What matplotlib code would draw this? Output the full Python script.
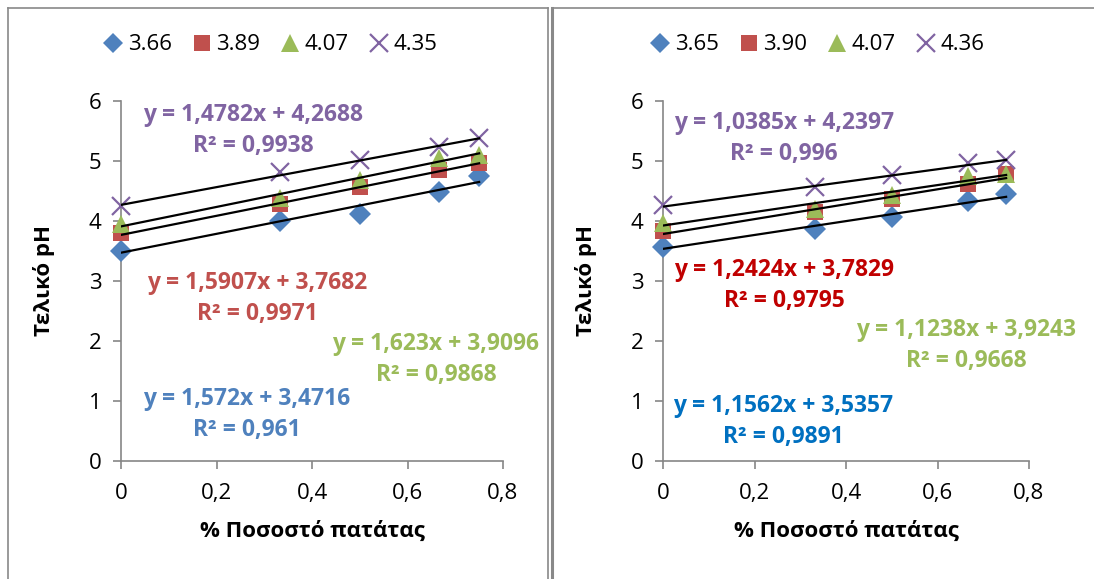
import numpy as np
import matplotlib
matplotlib.use("Agg")
import matplotlib.pyplot as plt
from matplotlib.lines import Line2D

plt.rcParams['font.family'] = ['Open Sans', 'DejaVu Sans']

# potato fraction
x_vals = [0, 0.333, 0.5, 0.667, 0.75]

# left panel
left_names = ['3.66', '3.89', '4.07', '4.35']
left_y = [
    [3.50, 4.00, 4.12, 4.48, 4.75],
    [3.80, 4.28, 4.56, 4.85, 4.96],
    [3.95, 4.38, 4.68, 5.05, 5.10],
    [4.25, 4.82, 5.02, 5.24, 5.38],
]
left_slope = [1.572, 1.5907, 1.623, 1.4782]
left_icept = [3.4716, 3.7682, 3.9096, 4.2688]
left_eq = ['y = 1,572x + 3,4716', 'y = 1,5907x + 3,7682',
           'y = 1,623x + 3,9096', 'y = 1,4782x + 4,2688']
left_r2 = ['R² = 0,961', 'R² = 0,9971', 'R² = 0,9868', 'R² = 0,9938']

# right panel
right_names = ['3.65', '3.90', '4.07', '4.36']
right_y = [
    [3.57, 3.86, 4.06, 4.33, 4.45],
    [3.83, 4.15, 4.36, 4.62, 4.79],
    [3.97, 4.20, 4.43, 4.75, 4.78],
    [4.26, 4.57, 4.76, 4.96, 5.02],
]
right_slope = [1.1562, 1.2424, 1.1238, 1.0385]
right_icept = [3.5357, 3.7829, 3.9243, 4.2397]
right_eq = ['y = 1,1562x + 3,5357', 'y = 1,2424x + 3,7829',
            'y = 1,1238x + 3,9243', 'y = 1,0385x + 4,2397']
right_r2 = ['R² = 0,9891', 'R² = 0,9795', 'R² = 0,9668', 'R² = 0,996']

markers = ['D', 's', '^', 'x']
msizes = [11, 12, 13, 13.5]
mcolors = ['#4F81BD', '#C0504D', '#9BBB59', '#8064A2']
left_lbl_col = ['#4F81BD', '#C0504D', '#9BBB59', '#8064A2']
right_lbl_col = ['#0070C0', '#C00000', '#9BBB59', '#8064A2']

W, H = 1094, 579
fig = plt.figure(figsize=(W / 100, H / 100), dpi=100)


def px(x0, y0, x1, y1):
    # pixel box (top-left origin) -> figure fraction rect
    return [x0 / W, 1 - y1 / H, (x1 - x0) / W, (y1 - y0) / H]


def draw_panel(rect, ys, slopes, icepts, eqs, r2s, lblcols, names, lbl_pos, leg_x):
    ax = fig.add_axes(rect)
    for i in range(4):
        ax.plot(x_vals, ys[i], linestyle='none', marker=markers[i], ms=msizes[i],
                color=mcolors[i], mew=1.6 if markers[i] == 'x' else 0,
                label=names[i], zorder=3, clip_on=False)
    for i in range(4):
        xx = np.array([0, 0.75])
        ax.plot(xx, slopes[i] * xx + icepts[i], color='black', lw=1.6, zorder=4)
    for i in range(4):
        tx, ty = lbl_pos[i]
        ax.text(tx, ty, eqs[i], color=lblcols[i], fontsize=16.5, fontweight='bold',
                ha='center', va='center', transform=fig.transFigure)
        ax.text(tx, ty - 31 / H, r2s[i], color=lblcols[i], fontsize=16.5,
                fontweight='bold', ha='center', va='center', transform=fig.transFigure)
    ax.set_xlim(0, 0.8)
    ax.set_ylim(0, 6)
    ax.set_xticks([0, 0.2, 0.4, 0.6, 0.8])
    ax.set_xticklabels(['0', '0,2', '0,4', '0,6', '0,8'])
    ax.set_yticks(range(7))
    for s in ['top', 'right']:
        ax.spines[s].set_visible(False)
    for s in ['left', 'bottom']:
        ax.spines[s].set_color('#868686')
        ax.spines[s].set_linewidth(1.2)
    ax.tick_params(colors='#868686', labelcolor='black', labelsize=16,
                   length=6, width=1.2, direction='out')
    ax.tick_params(axis='x', pad=10)
    ax.tick_params(axis='y', pad=8)
    ax.set_xlabel('% Ποσοστό πατάτας', fontsize=16, fontweight='bold', labelpad=12)
    ax.set_ylabel('Τελικό pH', fontsize=16, fontweight='bold', labelpad=24)
    ax.legend(loc='center', bbox_to_anchor=(leg_x, 1 - 45 / H),
              bbox_transform=fig.transFigure, ncol=4, frameon=False,
              fontsize=16, handletextpad=0.0, columnspacing=0.7,
              handlelength=1.3, markerscale=0.95)
    return ax


def fpos(pts):
    return [(x / W, 1 - y / H) for x, y in pts]


draw_panel(px(121, 101, 503, 461), left_y, left_slope, left_icept, left_eq,
           left_r2, left_lbl_col, left_names,
           fpos([(247, 399), (257, 283), (436, 344), (253, 115)]), 268 / W)
draw_panel(px(663, 101, 1029, 461), right_y, right_slope, right_icept, right_eq,
           right_r2, right_lbl_col, right_names,
           fpos([(783, 406), (784, 270), (966, 330), (784, 123)]), 815 / W)

# chart area borders
gray = '#898989'
fig.add_artist(Line2D([8 / W, 8 / W], [0, 1 - 8 / H], color=gray, lw=1.2))
fig.add_artist(Line2D([8 / W, 548 / W], [1 - 8 / H, 1 - 8 / H], color=gray, lw=1.2))
fig.add_artist(Line2D([548 / W, 548 / W], [0, 1 - 8 / H], color=gray, lw=1.2))
fig.add_artist(Line2D([552 / W, 552 / W], [0, 1 - 8 / H], color=gray, lw=2.2))
fig.add_artist(Line2D([552 / W, 1], [1 - 8 / H, 1 - 8 / H], color=gray, lw=1.2))

fig.savefig('out.png', dpi=100)
